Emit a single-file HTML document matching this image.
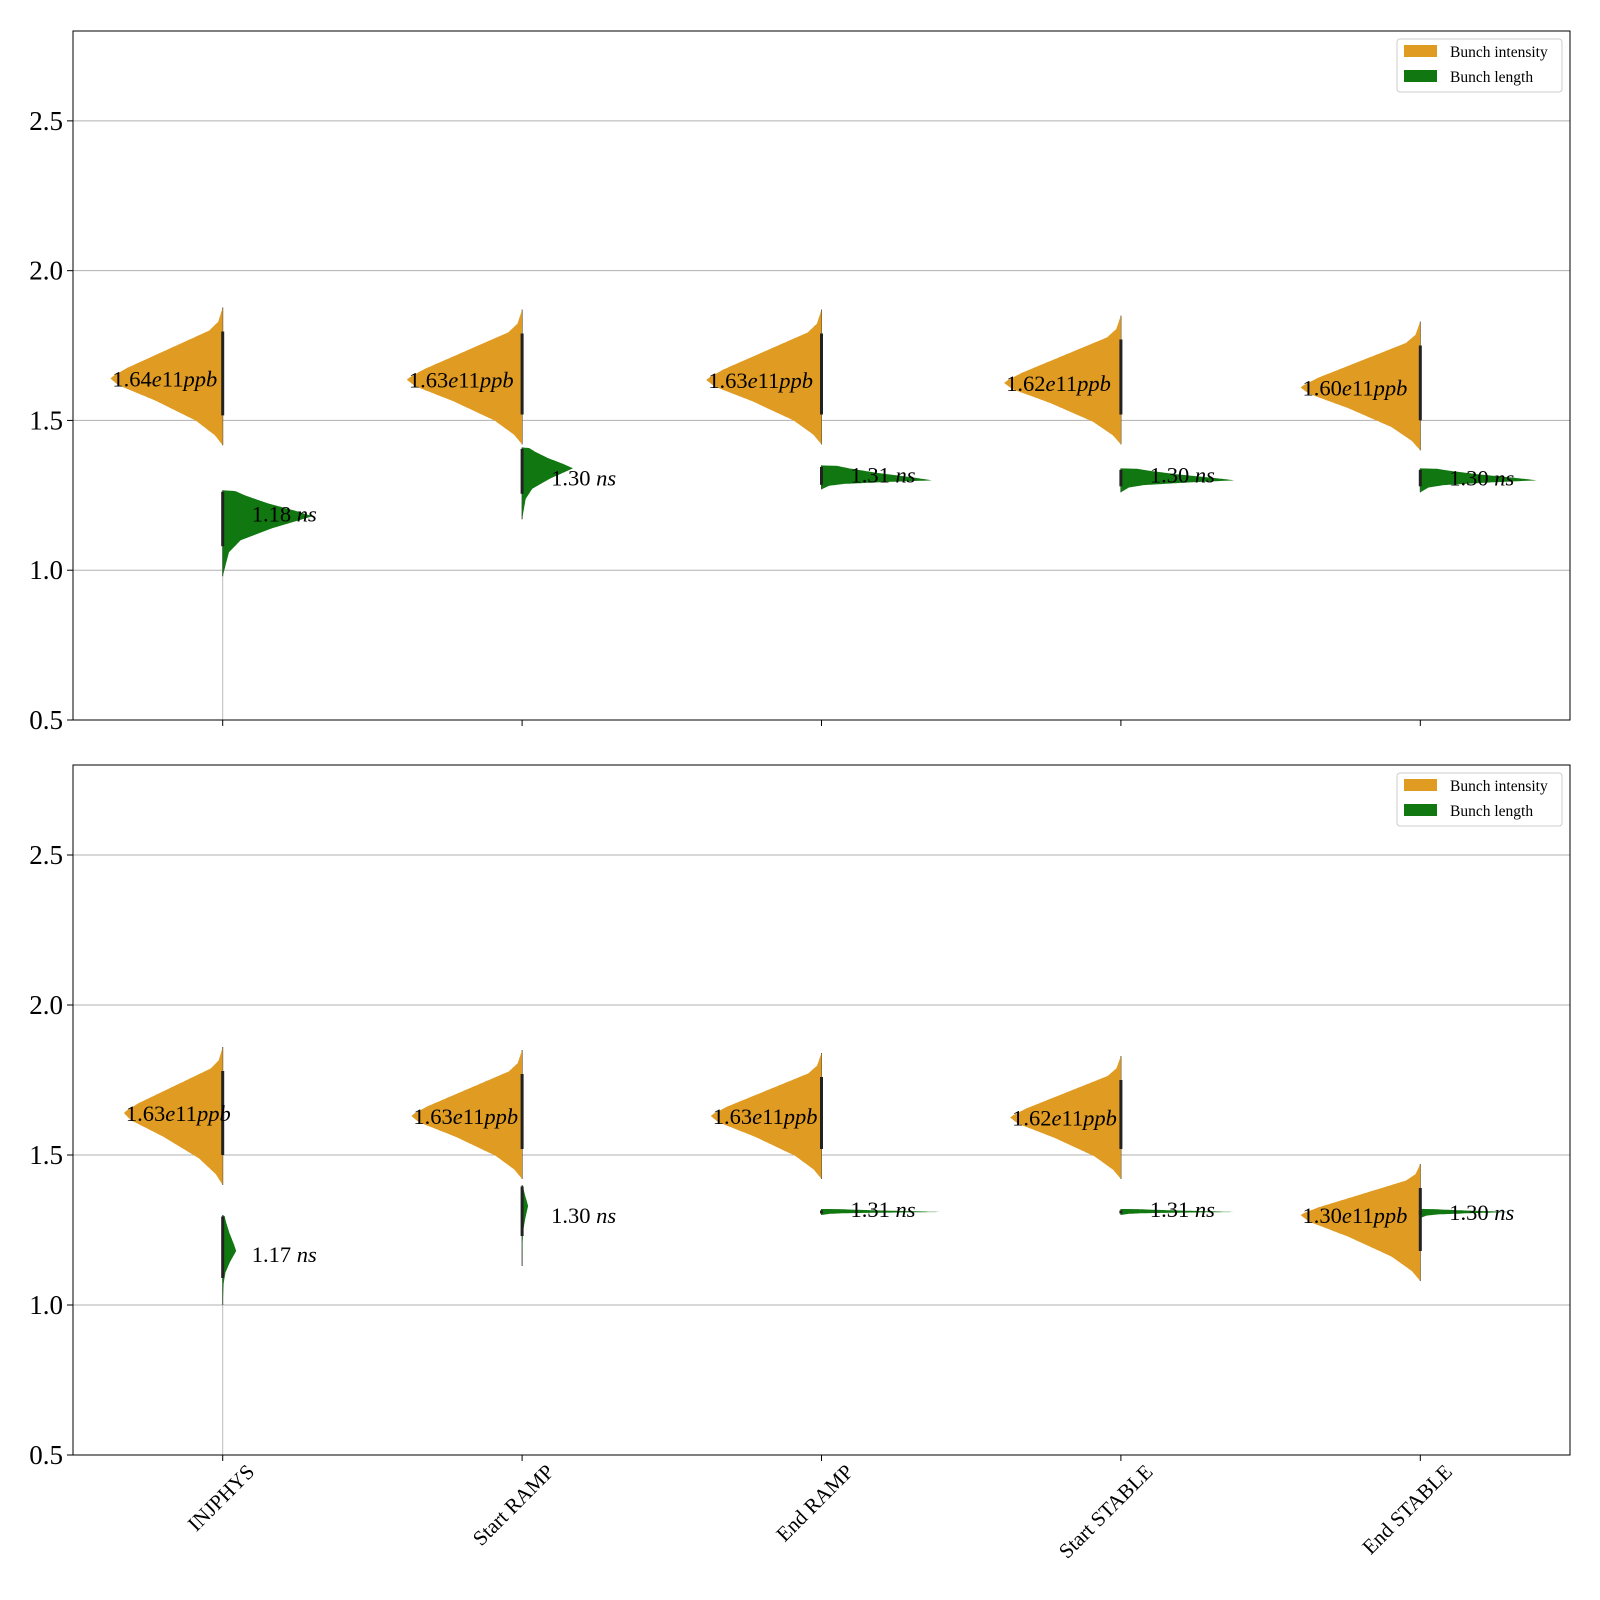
<!DOCTYPE html>
<html><head><meta charset="utf-8">
<style>html,body{margin:0;padding:0;background:#fff;}svg{display:block;font-family:"Liberation Serif",serif;}</style>
</head><body>
<svg id="chart" width="1600" height="1600" xmlns="http://www.w3.org/2000/svg"></svg>
<script>
const categories = ["INJPHYS","Start RAMP","End RAMP","Start STABLE","End STABLE"];
const yTicks = [0.5,1.0,1.5,2.0,2.5];
// shared density shape profiles (relative position from mode, relative width)
const intUpT = [0,0.04,0.15,0.675,0.8,1];
const intUpR = [1,0.97,0.85,0.12,0.04,0];
const intLoS = [0,0.1,0.33,0.63,0.85,1];
const intLoR = [1,0.93,0.6,0.24,0.07,0];
const lenUpT = [0,0.2,0.5,0.8,0.97,1];
const lenUpR = [1,0.82,0.5,0.25,0.14,0];
const lenLoS = [0,0.2,0.4,0.6,1];
const lenLoR = [1,0.55,0.2,0.07,0];
// Panel A (top)
const topIntMode = [1.64,1.636,1.635,1.625,1.61];
const topIntHi = [1.877,1.87,1.87,1.85,1.83];
const topIntLo = [1.417,1.42,1.42,1.42,1.40];
const topIntW = [0.375,0.385,0.385,0.39,0.40];
const topIntLabel = ["1.64","1.63","1.63","1.62","1.60"];
const topLenMode = [1.18,1.34,1.30,1.30,1.30];
const topLenHi = [1.267,1.41,1.35,1.34,1.34];
const topLenLo = [0.98,1.17,1.27,1.26,1.26];
const topLenW = [0.30,0.17,0.37,0.38,0.39];
const topLenLabel = ["1.18","1.30","1.31","1.30","1.30"];
const topLenLabelY = [1.19,1.31,1.32,1.32,1.31];
// Panel B (bottom)
const botIntMode = [1.64,1.63,1.63,1.625,1.30];
const botIntHi = [1.86,1.85,1.84,1.83,1.47];
const botIntLo = [1.40,1.42,1.42,1.42,1.08];
const botIntW = [0.33,0.37,0.37,0.37,0.40];
const botIntLabel = ["1.63","1.63","1.63","1.62","1.30"];
const botLenMode = [1.18,1.33,1.31,1.31,1.31];
const botLenHi = [1.30,1.40,1.32,1.32,1.32];
const botLenLo = [1.00,1.13,1.30,1.30,1.29];
const botLenW = [0.045,0.02,0.40,0.38,0.30];
const botLenLabel = ["1.17","1.30","1.31","1.31","1.30"];
const botLenLabelY = [1.17,1.30,1.32,1.32,1.31];

const NS="http://www.w3.org/2000/svg";
const svg=document.getElementById('chart');
const X0=73,X1=1570;
const xs=v=>X0+(v+0.5)/5*(X1-X0);
function mk(tag,attrs,parent){const e=document.createElementNS(NS,tag);for(const k in attrs)e.setAttribute(k,attrs[k]);(parent||svg).appendChild(e);return e;}
const ORANGE="#e09b22",GREEN="#117711";
function interp(xa,ya,x){for(let i=1;i<xa.length;i++){if(x<=xa[i]){const f=(x-xa[i-1])/(xa[i]-xa[i-1]);return ya[i-1]+f*(ya[i]-ya[i-1]);}}return ya[ya.length-1];}

function violinPath(ys,cx,side,mode,hi,lo,w,upT,upR,loS,loR){
  const pts=[];const N=80;const sc=(X1-X0)/5;
  for(let i=0;i<=N;i++){const t=1-i/N;const y=mode+(hi-mode)*t;pts.push([cx+side*w*sc*interp(upT,upR,t),ys(y)]);}
  for(let i=1;i<=N;i++){const s=i/N;const y=mode-(mode-lo)*s;pts.push([cx+side*w*sc*interp(loS,loR,s),ys(y)]);}
  return `M${cx},${ys(hi)} `+pts.map(p=>`L${p[0].toFixed(1)},${p[1].toFixed(1)}`).join(' ')+` L${cx},${ys(lo)} Z`;
}

function panel(top,bottom,name,d,showX){
  const ys=v=>bottom-(v-0.5)/2.3*(bottom-top);
  const g=mk('g',{});
  
  
  yTicks.forEach(t=>{
    const gl=mk('line',{x1:X0,x2:X1,y1:ys(t),y2:ys(t),stroke:'#b0b0b0','stroke-width':1},g);
    
    
    mk('line',{x1:X0-6,x2:X0,y1:ys(t),y2:ys(t),stroke:'#000','stroke-width':1},g);
    const tl=mk('text',{x:X0-10,y:ys(t)+9,'text-anchor':'end','font-size':27},g);
    tl.textContent=t.toFixed(1);
    
    
  });
  if(d.gray){mk('line',{x1:xs(0),x2:xs(0),y1:ys(1.0),y2:bottom,stroke:'#bbb','stroke-width':1},g);}
  categories.forEach((c,i)=>{
    const cx=xs(i);
    mk('line',{x1:cx,x2:cx,y1:bottom,y2:bottom+6,stroke:'#000','stroke-width':1},g);
    mk('line',{x1:cx,x2:cx,y1:ys(d.iHi[i]),y2:ys(d.iLo[i]),stroke:'#444','stroke-width':1},g);
    const vi=mk('path',{d:violinPath(ys,cx,-1,d.iMode[i],d.iHi[i],d.iLo[i],d.iW[i],intUpT,intUpR,intLoS,intLoR),fill:ORANGE},g);
    
    
    mk('line',{x1:cx,x2:cx,y1:ys(d.lHi[i]),y2:ys(d.lLo[i]),stroke:'#444','stroke-width':1},g);
    const vl=mk('path',{d:violinPath(ys,cx,1,d.lMode[i],d.lHi[i],d.lLo[i],d.lW[i],lenUpT,lenUpR,lenLoS,lenLoR),fill:GREEN},g);
    
    
    mk('line',{x1:cx,x2:cx,y1:ys(d.iHi[i]-0.08),y2:ys(d.iLo[i]+0.1),stroke:'#222','stroke-width':3},g);
    mk('line',{x1:cx,x2:cx,y1:ys(d.lHi[i]-0.005),y2:ys((d.lLo[i]+d.lMode[i])/2),stroke:'#222','stroke-width':3},g);
    const it=mk('text',{x:cx-d.iW[i]*(X1-X0)/5+2,y:ys(d.iMode[i])+8,'font-size':22.5},g);
    it.innerHTML=d.iLab[i]+'<tspan font-style="italic">e</tspan>11<tspan font-style="italic">ppb</tspan>';
    
    
    const lt=mk('text',{x:cx+29,y:ys(d.lLabY[i])+8,'font-size':22.5},g);
    lt.innerHTML=d.lLab[i]+' <tspan font-style="italic">ns</tspan>';
    
    
    if(showX){
      const xl=mk('text',{x:cx+33,y:bottom+18,'text-anchor':'end','font-size':21,transform:`rotate(-45 ${cx+33} ${bottom+18})`},g);
      xl.textContent=c;
      
      
    }
  });
  mk('rect',{x:X0,y:top,width:X1-X0,height:bottom-top,fill:'none',stroke:'#000','stroke-width':1},g);
  const lg=mk('g',{},g);
  
  
  mk('rect',{x:1397,y:top+8,width:165,height:53,rx:3,fill:'#fff','fill-opacity':0.8,stroke:'#ccc'},lg);
  mk('rect',{x:1404,y:top+14,width:33,height:12,fill:ORANGE},lg);
  mk('rect',{x:1404,y:top+39,width:33,height:12,fill:GREEN},lg);
  const t1=mk('text',{x:1450,y:top+26,'font-size':15.5},lg);t1.textContent='Bunch intensity';
  
  const t2=mk('text',{x:1450,y:top+51,'font-size':15.5},lg);t2.textContent='Bunch length';
  
}
panel(31,720,'top-panel',{iMode:topIntMode,iHi:topIntHi,iLo:topIntLo,iW:topIntW,iLab:topIntLabel,lMode:topLenMode,lHi:topLenHi,lLo:topLenLo,lW:topLenW,lLab:topLenLabel,lLabY:topLenLabelY,gray:true},false);
panel(765,1455,'bottom-panel',{iMode:botIntMode,iHi:botIntHi,iLo:botIntLo,iW:botIntW,iLab:botIntLabel,lMode:botLenMode,lHi:botLenHi,lLo:botLenLo,lW:botLenW,lLab:botLenLabel,lLabY:botLenLabelY,gray:true},true);
</script>
</body></html>
